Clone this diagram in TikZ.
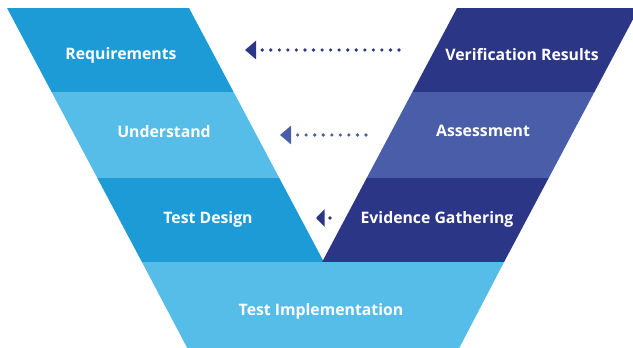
\documentclass[tikz,border=0pt]{standalone}
\usepackage{fontspec}
\setmainfont{Open Sans}
\usetikzlibrary{arrows.meta}
\definecolor{bluedark}{HTML}{1C9BD6}
\definecolor{bluelight}{HTML}{56BCE8}
\definecolor{navy}{HTML}{2B3686}
\definecolor{navymid}{HTML}{4A5DA9}
\tikzset{
  lbl/.style={text=white, font=\fontsize{15.8}{18}\selectfont\bfseries, inner sep=0pt, anchor=base},
  dotarrow/.style={line width=3.6pt, line cap=round, dash pattern=on 0pt off 8.55pt}
}
\begin{document}
\begin{tikzpicture}[x=1pt,y=-1pt]
\useasboundingbox (0,0) rectangle (633,348);
\begin{scope}
\clip (0,0) rectangle (633,348);
% left column
\fill[bluedark]  (7,8) -- (189,8) -- (233.6,92) -- (51.6,92) -- cycle;
\fill[bluelight] (51.6,92) -- (233.6,92) -- (279.3,178) -- (97.3,178) -- cycle;
\fill[bluedark]  (97.3,178) -- (279.3,178) -- (323.9,262) -- (141.9,262) -- cycle;
% right column
\fill[navy]    (457,8) -- (639,8) -- (594.4,92) -- (412.4,92) -- cycle;
\fill[navymid] (412.4,92) -- (594.4,92) -- (548.7,178) -- (366.7,178) -- cycle;
\fill[navy]    (366.7,178) -- (548.7,178) -- (504.1,262) -- (322.1,262) -- cycle;
% bottom
\fill[bluelight] (141.9,262) -- (504.1,262) -- (459,348.5) -- (187.5,348.5) -- cycle;
\end{scope}
% labels
\node[lbl] (req) at (121,59.5) {Requirements};
\node[lbl] (und) at (164,137.5) {Understand};
\node[lbl] (tdes) at (208,223) {Test Design};
\node[lbl] (timp) at (321,315) {Test Implementation};
\node[lbl] (ver) at (522,60.5) {Verification Results};
\node[lbl] (ass) at (483,136) {Assessment};
\node[lbl] (evi) at (437,223) {Evidence Gathering};
% arrows
\coordinate (a1s) at (399,50);
\coordinate (a1e) at (245,50);
\coordinate (a2s) at (366,135);
\coordinate (a2e) at (280,135);
\coordinate (a3s) at (330,218);
\coordinate (a3e) at (316,218);
\draw[dotarrow, navy, -{Triangle[width=18pt,length=11pt]}] (a1s) -- (a1e);
\draw[dotarrow, navymid, -{Triangle[width=18pt,length=11pt]}] (a2s) -- (a2e);
\draw[dotarrow, navy, -{Triangle[width=17pt,length=8.5pt]}] (a3s) -- (a3e);
\end{tikzpicture}
\end{document}
